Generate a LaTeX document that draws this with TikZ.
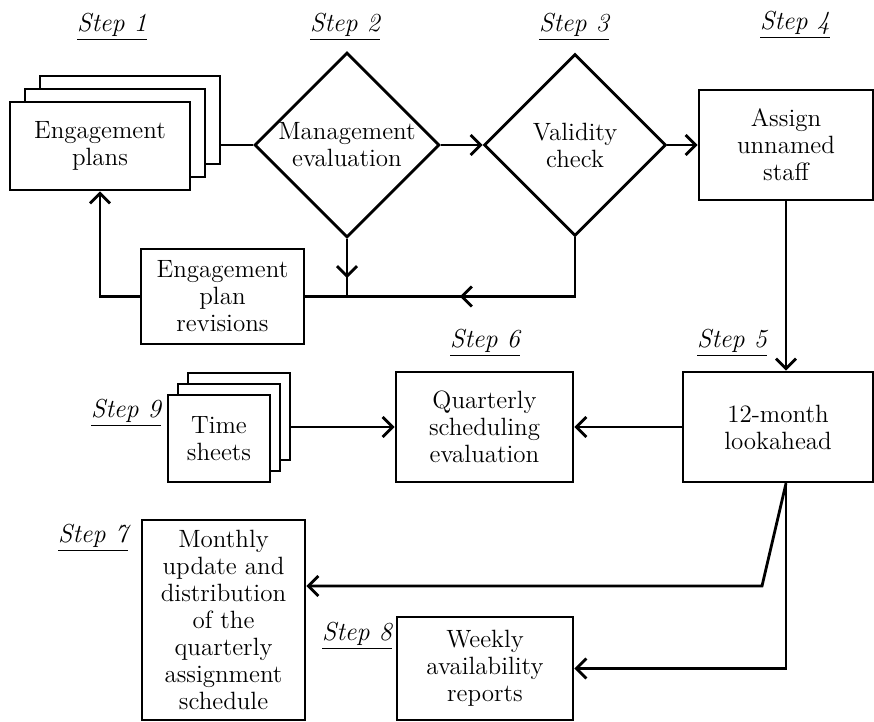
\documentclass[tikz,border=0pt]{standalone}
\usepackage{tikz}
\usetikzlibrary{positioning,shapes.geometric,arrows.meta,decorations.markings}
\tikzstyle{plan} = [rectangle, draw=black, fill=white, align=center, inner sep=1pt]
\tikzstyle{decision} = [diamond, aspect=1, draw=black, fill=white, align=center, inner sep=0pt]
\tikzstyle{steplabel} = [font=\fontsize{13}{15}\selectfont\itshape, inner sep=0pt]
\tikzstyle{arrow} = [->]
\tikzset{midarrow/.style={postaction={decorate}, decoration={markings, mark=at position #1 with {\arrow{>}}}}}

\begin{document}
\begin{tikzpicture}[x=0.5pt, y=-0.5pt, line width=1.4pt, >={Straight Barb[length=5pt,width=10pt]}, font=\fontsize{12.5}{13.5}\selectfont]
\useasboundingbox (0,0) rectangle (874,722);
% top row
\node (s1) [steplabel] at (112,27) {\underline{Step 1}};
\node (plansC) [plan, minimum width=90pt, minimum height=44pt] at (130,120) {};
\node (plansB) [plan, minimum width=90pt, minimum height=44pt] at (115,133) {};
\node (plans) [plan, minimum width=90pt, minimum height=44pt] at (100,146) {Engagement\\plans};
\node (s2) [steplabel] at (345,27) {\underline{Step 2}};
\node (mgmt) [decision, minimum size=92.5pt] at (347,145) {Management\\evaluation};
\draw (mgmt.west -| plansC.east) -- (mgmt.west);
\node (s3) [steplabel] at (574,27) {\underline{Step 3}};
\node (valid) [decision, minimum size=91pt] at (575,145) {Validity\\check};
\draw [arrow] (mgmt.east) -- (valid.west);
\node (s4) [steplabel] at (795,25) {\underline{Step 4}};
\node (assign) [plan, minimum width=87pt, minimum height=55pt] at (786,145) {Assign\\unnamed\\staff};
\draw [arrow] (valid.east) -- (valid.east -| assign.west);
% revisions loop
\node (revs) [plan, minimum width=81.5pt, minimum height=47.5pt] at (222.5,296.5) {Engagement\\plan\\revisions};
\draw [midarrow=0.68] (mgmt.south) -- (mgmt.south |- revs.east);
\draw [midarrow=0.53] (valid.south) -- (valid.south |- revs.east) -- (revs.east);
\draw [arrow] (revs.west) -- (revs.west -| plans.south) -- (plans.south);
% middle row
\node (s5) [steplabel] at (732,343) {\underline{Step 5}};
\node (look) [plan, minimum width=95pt, minimum height=55pt] at (778,427) {12-month\\lookahead};
\draw [arrow] (assign.south) -- (assign.south |- look.north);
\node (s6) [steplabel] at (485,343) {\underline{Step 6}};
\node (quart) [plan, minimum width=88.5pt, minimum height=55pt] at (484.5,427) {Quarterly\\scheduling\\evaluation};
\draw [arrow] (look.west) -- (quart.east);
\node (s9) [steplabel] at (126,413) {\underline{Step 9}};
\node (tsC) [plan, minimum width=51pt, minimum height=43.5pt] at (239,416.5) {};
\node (tsB) [plan, minimum width=51pt, minimum height=43.5pt] at (229,427.5) {};
\node (ts) [plan, minimum width=51pt, minimum height=43.5pt] at (219,438.5) {Time\\sheets};
\draw [arrow] (tsC.east |- quart.west) -- (quart.west);
% bottom row
\node (s7) [steplabel] at (93,538) {\underline{Step 7}};
\node (monthly) [plan, minimum width=81.5pt, minimum height=100pt] at (223.5,620) {Monthly\\update and\\distribution\\of the\\quarterly\\assignment\\schedule};
\node (s8) [steplabel] at (357,636) {\underline{Step 8}};
\node (weekly) [plan, minimum width=88pt, minimum height=51.5pt] at (485,668.5) {Weekly\\availability\\reports};
\coordinate (drop) at (assign.south |- look.south);
\coordinate (bend) at (762,586);
\draw [arrow] (drop) -- (bend) -- (bend -| monthly.east);
\draw [arrow] (drop) -- (drop |- weekly.east) -- (weekly.east);
\end{tikzpicture}
\end{document}
